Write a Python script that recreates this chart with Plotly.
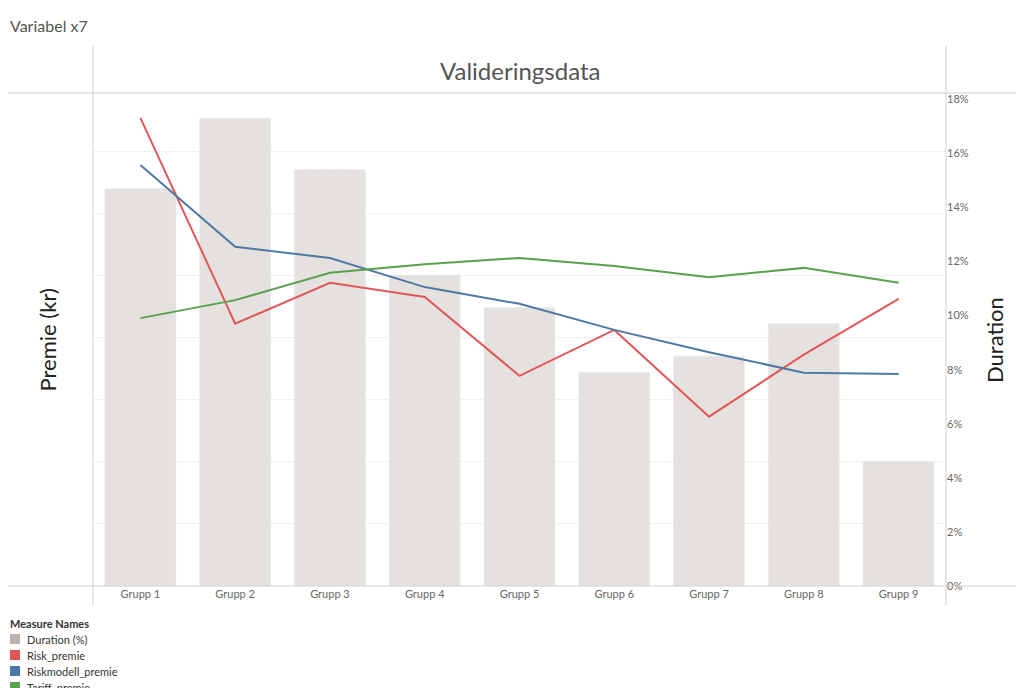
import plotly.graph_objects as go

groups = ["Grupp 1", "Grupp 2", "Grupp 3", "Grupp 4", "Grupp 5", "Grupp 6", "Grupp 7", "Grupp 8", "Grupp 9"]
duration = [0.147, 0.173, 0.154, 0.115, 0.103, 0.079, 0.085, 0.097, 0.046]
risk_premie = [755, 423, 489, 466, 339, 413, 273, 373, 463]
riskmodell_premie = [679, 547, 529, 482, 455, 413, 377, 344, 342]
tariff_premie = [432, 461, 505, 519, 529, 516, 498, 513, 489]

legend_names = ["Duration (%)", "Risk_premie", "Riskmodell_premie", "Tariff_premie"]
legend_colors = ["#bab0ac", "#e15759", "#4e79a7", "#59a14f"]

fig = go.Figure()
# bars on the (right-side) base axis, lines on the overlaying axis so they draw on top
fig.add_trace(go.Bar(x=groups, y=duration, name="Duration (%)", marker_color="#e5e1de",
                     yaxis="y", width=0.75))
fig.add_trace(go.Scatter(x=groups, y=risk_premie, name="Risk_premie", mode="lines",
                         yaxis="y2", line=dict(color="#e15759", width=2)))
fig.add_trace(go.Scatter(x=groups, y=riskmodell_premie, name="Riskmodell_premie", mode="lines",
                         yaxis="y2", line=dict(color="#4e79a7", width=2)))
fig.add_trace(go.Scatter(x=groups, y=tariff_premie, name="Tariff_premie", mode="lines",
                         yaxis="y2", line=dict(color="#59a14f", width=2)))

fig.update_layout(
    width=1024, height=688,
    margin=dict(l=85, r=86, t=85, b=110, autoexpand=False),
    plot_bgcolor="white", paper_bgcolor="white",
    font=dict(family="Lato, sans-serif", color="#666666", size=11),
    showlegend=False,
    xaxis=dict(showgrid=False, ticks="", tickfont=dict(size=11, color="#666"), showline=False,
               range=[-0.5, 8.5], automargin=False),
    yaxis=dict(side="right", range=[0, 0.1823], dtick=0.02, tickformat=".0%",
               showgrid=False, zeroline=False, tickfont=dict(size=11, color="#666"), automargin=False),
    yaxis2=dict(overlaying="y", side="left", range=[0, 795], dtick=100, showticklabels=False,
                showgrid=True, gridcolor="#f0f0f0", zeroline=False, automargin=False),
)

fig.add_annotation(text="Variabel x7", xref="paper", yref="paper", x=-0.0997, y=1.136,
                   xanchor="left", yanchor="middle", showarrow=False,
                   font=dict(size=16, color="#555"))
fig.add_annotation(text="Valideringsdata", xref="paper", yref="paper", x=0.5, y=1.045,
                   xanchor="center", yanchor="middle", showarrow=False,
                   font=dict(size=24, color="#555"))
fig.add_annotation(text="Premie (kr)", xref="paper", yref="paper", x=-0.071, y=0.5,
                   textangle=-90, showarrow=False, font=dict(size=22, color="#222"))
fig.add_annotation(text="Duration", xref="paper", yref="paper", x=1.075, y=0.5,
                   textangle=-90, showarrow=False, font=dict(size=22, color="#222"))

line = dict(color="#d0d0d0", width=1)
fig.add_shape(type="line", xref="paper", yref="paper", x0=-0.1, x1=1.1, y0=1, y1=1, line=line)
fig.add_shape(type="line", xref="paper", yref="paper", x0=-0.1, x1=1.1, y0=0, y1=0, line=line)
fig.add_shape(type="line", xref="paper", yref="paper", x0=0, x1=0, y0=-0.04, y1=1.096, line=line)
fig.add_shape(type="line", xref="paper", yref="paper", x0=1, x1=1, y0=-0.04, y1=1.096, line=line)

# legend drawn by hand, Tableau-style
ph = 493.0
pw = 853.0
fig.add_annotation(text="<b>Measure Names</b>", xref="paper", yref="paper",
                   x=-85 / pw, y=-(615 - 578) / ph, xanchor="left", yanchor="middle",
                   showarrow=False, font=dict(size=11, color="#333"))
for i, (name, col) in enumerate(zip(legend_names, legend_colors)):
    yc = 631 + 16 * i
    fig.add_shape(type="rect", xref="paper", yref="paper",
                  x0=-83 / pw, x1=-73 / pw, y0=-(yc + 5 - 578) / ph, y1=-(yc - 5 - 578) / ph,
                  fillcolor=col, line=dict(width=0))
    fig.add_annotation(text=name, xref="paper", yref="paper", x=-68 / pw, y=-(yc - 578) / ph,
                       xanchor="left", yanchor="middle", showarrow=False,
                       font=dict(size=11, color="#333"))

fig.write_html("out.html")
